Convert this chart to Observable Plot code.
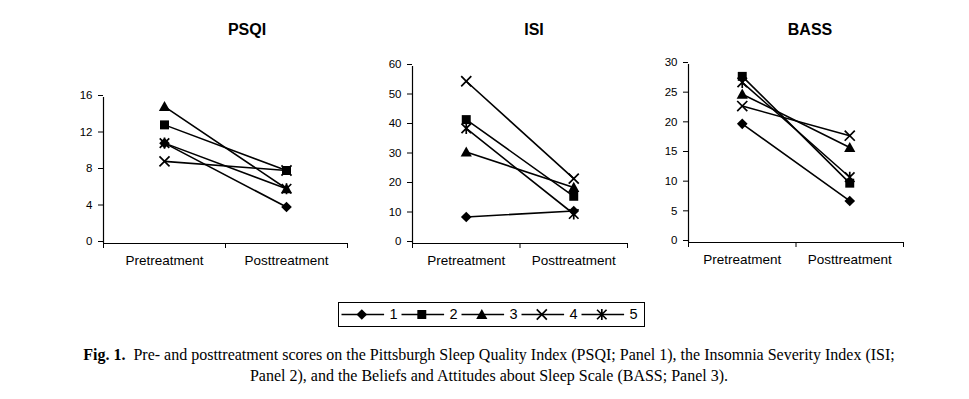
<!DOCTYPE html>
<html><head><meta charset="utf-8">
<script src="https://cdn.jsdelivr.net/npm/d3@7"></script>
<script src="https://cdn.jsdelivr.net/npm/@observablehq/plot@0.6"></script>
<style>
body{margin:0;background:#fff;}
#root{position:relative;width:969px;height:399px;overflow:hidden;background:#fff;font-family:"Liberation Sans",Arial,sans-serif;color:#000;}
.panel{position:absolute;top:0;}
.title{position:absolute;font-weight:bold;font-size:16px;line-height:16px;transform:translateX(-50%);white-space:nowrap;}
#legend{position:absolute;left:338px;top:302px;width:307px;height:25px;box-sizing:border-box;border:1.5px solid #000;}
#legend svg{display:block;}
#caption{position:absolute;left:0;width:978px;top:344px;text-align:center;font-family:"Liberation Serif","Times New Roman",serif;font-size:16px;line-height:21px;white-space:nowrap;}
</style></head><body><div id="root"></div>
<script>
// ---- data ----
const categories = ["Pretreatment", "Posttreatment"];
const seriesNames = ["1", "2", "3", "4", "5"];
const panelTitles = ["PSQI", "ISI", "BASS"];
const psqiPre  = [11, 13, 15, 9, 11];
const psqiPost = [4, 8, 6, 8, 6];
const isiPre   = [9, 42, 31, 55, 39];
const isiPost  = [11, 16, 19, 22, 10];
const bassPre  = [20, 28, 25, 23, 27];
const bassPost = [7, 10, 16, 18, 11];
const psqiTicks = [0, 4, 8, 12, 16];
const isiTicks  = [0, 10, 20, 30, 40, 50, 60];
const bassTicks = [0, 5, 10, 15, 20, 25, 30];

// ---- marker symbols ----
const rOf = s => Math.sqrt(s / Math.PI);
const symDiamond = {draw(c, s){const r = rOf(s)*0.95; c.moveTo(0,-r); c.lineTo(r,0); c.lineTo(0,r); c.lineTo(-r,0); c.closePath();}};
const symSquare = {draw(c, s){const r = rOf(s)*0.8; c.moveTo(-r,-r); c.lineTo(r,-r); c.lineTo(r,r); c.lineTo(-r,r); c.closePath();}};
const symTriangle = {draw(c, s){const r = rOf(s); c.moveTo(0,-r); c.lineTo(r,0.8*r); c.lineTo(-r,0.8*r); c.closePath();}};
const symTimes = {draw(c, s){const a = rOf(s)*0.9; c.moveTo(-a,-a); c.lineTo(a,a); c.moveTo(a,-a); c.lineTo(-a,a);}};
const symAsterisk = {draw(c, s){const r = rOf(s); const a = r*0.85; c.moveTo(-a,-a); c.lineTo(a,a); c.moveTo(a,-a); c.lineTo(-a,a); c.moveTo(0,-r); c.lineTo(0,r);}};
const markerStyles = [
  {symbol: symDiamond, filled: true},
  {symbol: symSquare, filled: true},
  {symbol: symTriangle, filled: true},
  {symbol: symTimes, filled: false},
  {symbol: symAsterisk, filled: false}
];
const font = "'Liberation Sans', Arial, sans-serif";

function markerDot(data, k, opts) {
  const st = markerStyles[k];
  return Plot.dot(data, Object.assign({symbol: st.symbol, r: 5.6},
    st.filled ? {fill: "black", stroke: "none"} : {fill: "none", stroke: "black", strokeWidth: 1.7}, opts));
}

function panel(pre, post, ticks, cfg) {
  const rows = [];
  seriesNames.forEach((n, i) => {
    rows.push({s: i, xp: 0.5, v: pre[i]});
    rows.push({s: i, xp: 1.5, v: post[i]});
  });
  const marks = [
    Plot.ruleY([0], {stroke: "black", strokeWidth: 1.2}),
    Plot.ruleX([0], {stroke: "black", strokeWidth: 1.2}),
    Plot.axisY(ticks, {tickSize: 5, tickPadding: 6, fontSize: 11.5, label: null, tickFormat: d => String(d), dy: -2}),
    Plot.axisX(d3.range(categories.length + 1), {tickSize: 5, tickFormat: () => "", label: null}),
    Plot.axisX(categories.map((c, i) => i + 0.5), {tickSize: 0, tickPadding: 12, fontSize: 13.5, label: null, tickFormat: v => categories[Math.round(v - 0.5)]})
  ];
  seriesNames.forEach((n, k) => {
    const d = rows.filter(r => r.s === k);
    marks.push(Plot.line(d, {x: "xp", y: "v", stroke: "black", strokeWidth: 1.6}));
    marks.push(markerDot(d, k, {x: "xp", y: "v"}));
  });
  const svg = Plot.plot({
    width: cfg.width, height: 280,
    marginLeft: 40, marginRight: cfg.width - 40 - cfg.frame,
    marginTop: cfg.top, marginBottom: 280 - cfg.bottom,
    x: {domain: [0, categories.length]},
    y: {domain: [0, ticks[ticks.length - 1]]},
    style: {fontFamily: font, fontSize: "11.5px", color: "black", background: "transparent", overflow: "visible"},
    marks
  });
  svg.classList.add("panel");
  svg.style.left = cfg.left + "px";
  svg.style.position = "absolute";
  svg.style.top = "0px";
  return svg;
}

const root = document.getElementById("root");
root.appendChild(panel(psqiPre, psqiPost, psqiTicks, {left: 63, width: 294, frame: 244, top: 97, bottom: 243}));
root.appendChild(panel(isiPre, isiPost, isiTicks, {left: 372, width: 265, frame: 215, top: 66, bottom: 243}));
root.appendChild(panel(bassPre, bassPost, bassTicks, {left: 648, width: 265, frame: 215, top: 64, bottom: 242}));

const titleX = [247, 534, 810];
panelTitles.forEach((t, i) => {
  const d = document.createElement("div");
  d.className = "title";
  d.style.left = titleX[i] + "px";
  d.style.top = "22px";
  d.textContent = t;
  root.appendChild(d);
});

// ---- legend ----
const legRows = seriesNames.map((n, i) => ({i, n}));
const legMarks = [
  Plot.ruleY(legRows, {x1: d => d.i, x2: d => d.i + 0.71, y: () => 0, stroke: "black", strokeWidth: 1.6})
];
legRows.forEach((r, k) => legMarks.push(markerDot([r], k, {x: d => d.i + 0.33, y: () => 0})));
legMarks.push(Plot.text(legRows, {x: d => d.i + 0.79, y: () => 0, text: "n", textAnchor: "start", fontSize: 14.5}));
const legSvg = Plot.plot({
  width: 304, height: 22, margin: 0,
  x: {domain: [0, 5], range: [2.5, 302.5], axis: null},
  y: {domain: [-1, 1], range: [22, 0], axis: null},
  style: {fontFamily: font, color: "black", background: "transparent", overflow: "visible"},
  marks: legMarks
});
const legDiv = document.createElement("div");
legDiv.id = "legend";
legDiv.appendChild(legSvg);
root.appendChild(legDiv);

// ---- caption ----
const cap = document.createElement("div");
cap.id = "caption";
cap.innerHTML = "<b>Fig. 1.</b>&nbsp; Pre- and posttreatment scores on the Pittsburgh Sleep Quality Index (PSQI; Panel 1), the Insomnia Severity Index (ISI;<br>Panel 2), and the Beliefs and Attitudes about Sleep Scale (BASS; Panel 3).";
root.appendChild(cap);
</script>
</body></html>
